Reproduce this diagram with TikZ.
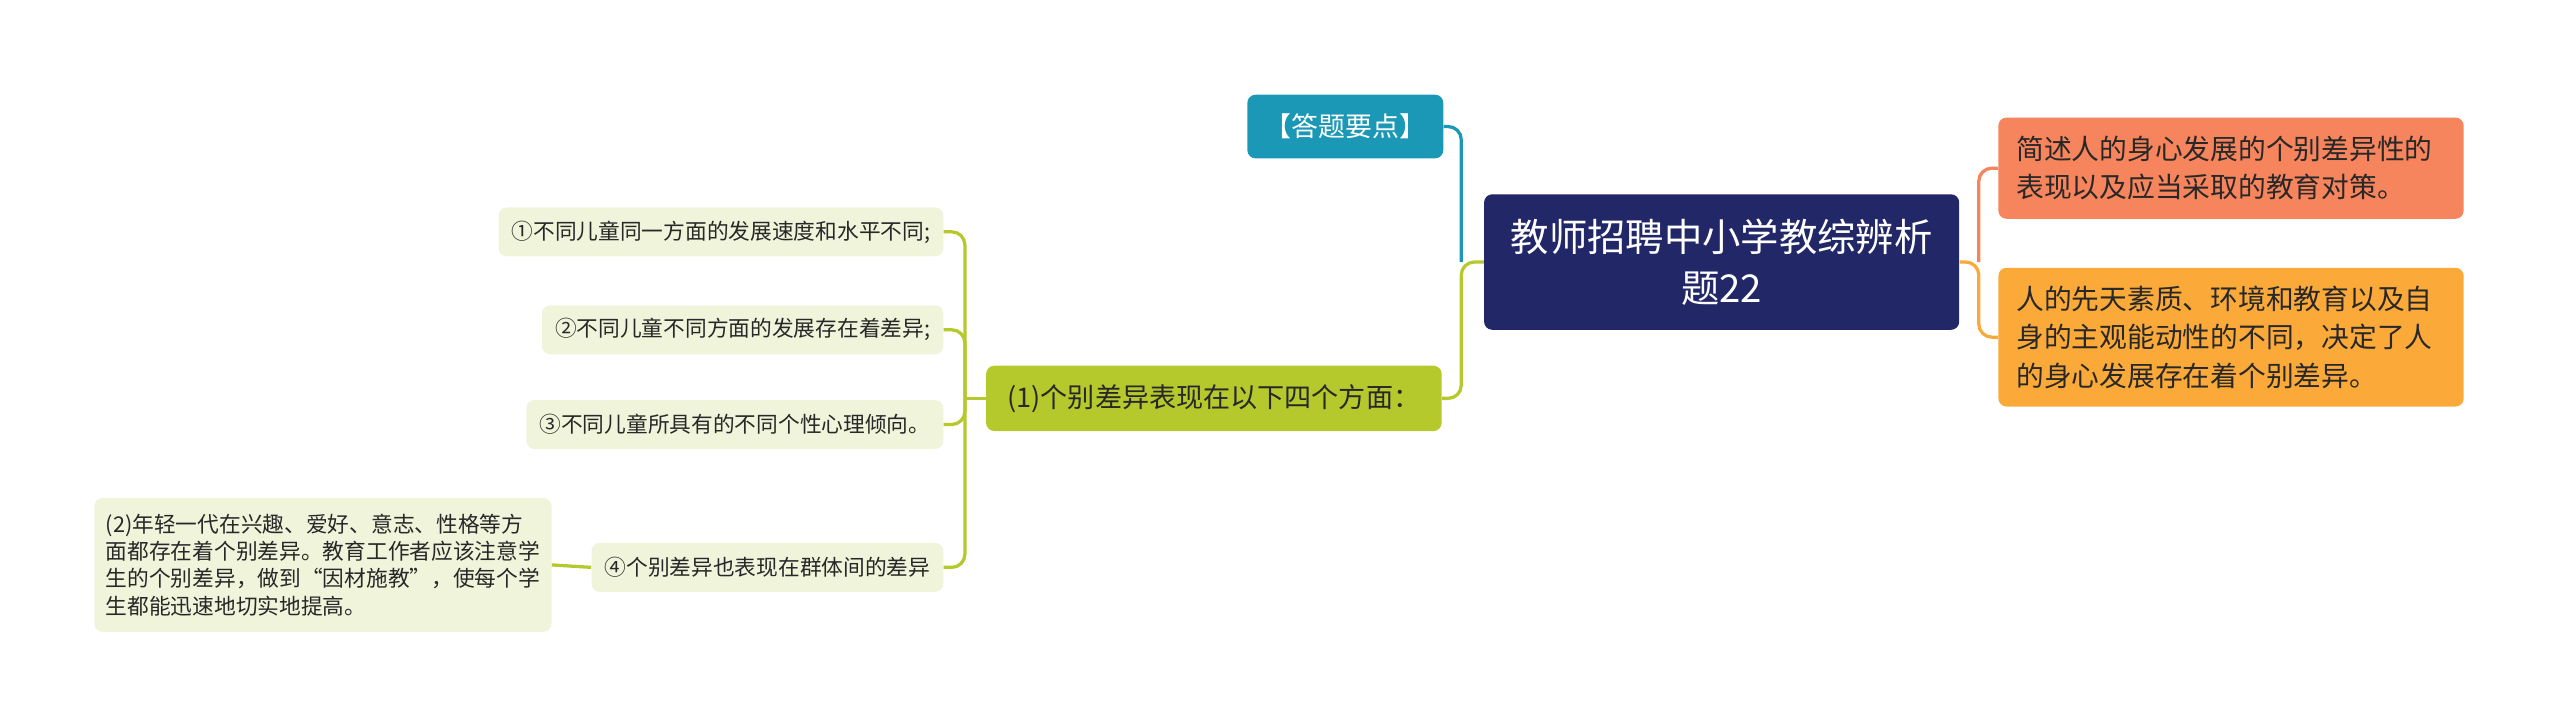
\documentclass[tikz,border=0pt]{standalone}
\usepackage{fontspec}
\setmainfont{Noto Sans CJK SC}
\definecolor{navy}{RGB}{34,39,104}
\definecolor{teal}{RGB}{26,152,182}
\definecolor{salmon}{RGB}{246,132,92}
\definecolor{amber}{RGB}{251,170,58}
\definecolor{olive}{RGB}{181,200,44}
\definecolor{pale}{RGB}{240,244,219}
\definecolor{ink}{RGB}{40,40,40}
\begin{document}
\begin{tikzpicture}[x=1pt,y=-1pt,
    box/.style={rounded corners=5pt,inner sep=0pt,text=ink},
    leaf/.style={box,fill=pale,inner xsep=8pt,minimum height=30pt,
      anchor=east,font=\fontsize{13.3}{16}\selectfont},
    wire/.style={line width=2pt,rounded corners=8pt}]
  \useasboundingbox (0,0) rectangle (1568,445);
  \node[box,fill=navy,text=white,align=center,minimum width=291pt,minimum height=83pt,
    font=\fontsize{23.5}{31.5}\selectfont] (root) at (1054.5,160.5)
    {教师招聘中小学教综辨析\\题22};
  \node[box,fill=teal,text=white,minimum width=120pt,minimum height=39pt,
    font=\fontsize{16.5}{20}\selectfont] (key) at (824,77.5) {【答题要点】};
  \node[box,fill=salmon,inner xsep=11pt,text width=263pt,align=left,minimum height=62pt,
    font=\fontsize{17}{23.5}\selectfont] (r1) at (1366.5,103)
    {简述人的身心发展的个别差异性的\\表现以及应当采取的教育对策。};
  \node[box,fill=amber,inner xsep=11pt,text width=263pt,align=left,minimum height=85pt,
    font=\fontsize{17}{23.5}\selectfont] (r2) at (1366.5,206.5)
    {人的先天素质、环境和教育以及自\\身的主观能动性的不同，决定了人\\的身心发展存在着个别差异。};
  \node[box,fill=olive,minimum width=279pt,minimum height=40pt,
    font=\fontsize{16.6}{20}\selectfont] (g1) at (743.5,244) {(1)个别差异表现在以下四个方面：};
  \node[leaf] (a) at (578,142) {①不同儿童同一方面的发展速度和水平不同;};
  \node[leaf] (b) at (578,202) {②不同儿童不同方面的发展存在着差异;};
  \node[leaf] (c) at (578,260) {③不同儿童所具有的不同个性心理倾向。};
  \node[leaf] (d) at (578,347.5) {④个别差异也表现在群体间的差异};
  \node[box,fill=pale,inner xsep=7pt,text width=266pt,align=left,minimum height=82pt,
    anchor=east,font=\fontsize{13.3}{16.7}\selectfont] (e) at (338,346)
    {(2)年轻一代在兴趣、爱好、意志、性格等方\\面都存在着个别差异。教育工作者应该注意学\\生的个别差异，做到“因材施教”，使每个学\\生都能迅速地切实地提高。};
  \coordinate (jl) at (895,160.5);
  \coordinate (jr) at (1212,160.5);
  \coordinate (jg) at (591,244);
  \draw[wire,olive] (root.west) -- (jl) |- (g1.east);
  \draw[wire,teal] (jl) |- (key.east);
  \draw[wire,salmon] (jr) |- (r1.west);
  \draw[wire,amber] (root.east) -- (jr) |- (r2.west);
  \draw[wire,olive] (g1.west) -- (jg);
  \foreach \n in {a,b,c,d}
    \draw[wire,olive] (jg) |- (\n.east);
  \draw[wire,olive] (d.west) -- (e.east);
\end{tikzpicture}
\end{document}
